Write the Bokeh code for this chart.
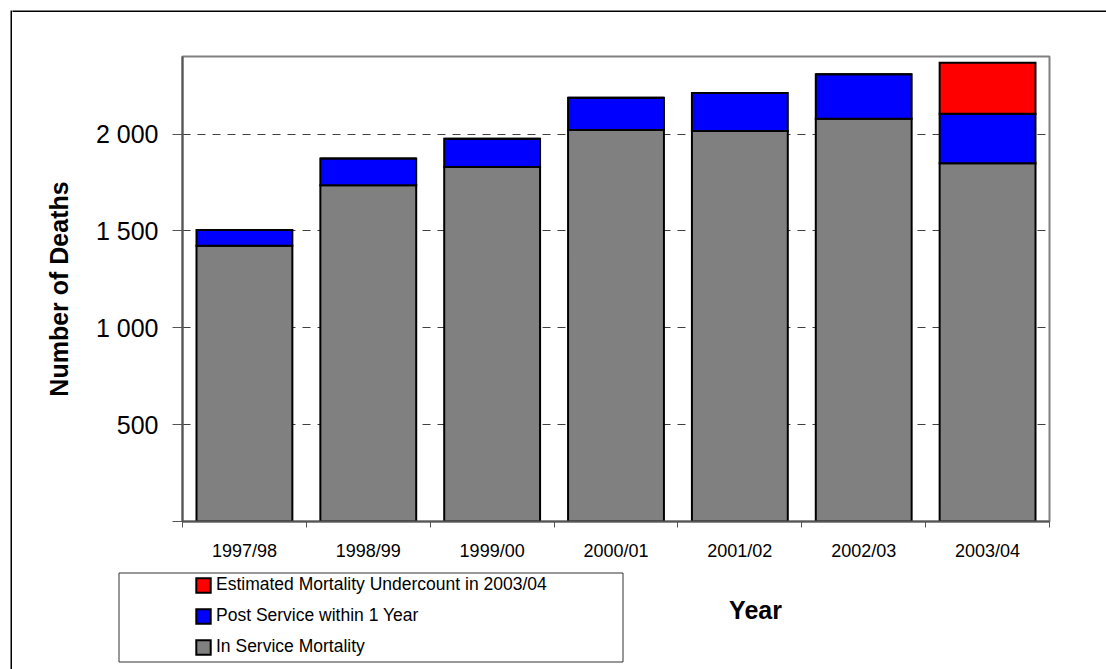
from bokeh.plotting import figure
from bokeh.layouts import row, column
from bokeh.models import (Range1d, FixedTicker, Legend, LegendItem, Label,
                          BoxAnnotation, ColumnDataSource)
from bokeh.embed import file_html
from bokeh.resources import INLINE

years = ["1997/98", "1998/99", "1999/00", "2000/01", "2001/02", "2002/03", "2003/04"]
in_service = [1423, 1735, 1830, 2021, 2015, 2079, 1849]
post_service = [82, 138, 146, 166, 196, 229, 256]
undercount = [0, 0, 0, 0, 0, 0, 263]
y_ticks = [0, 500, 1000, 1500, 2000]
series_names = ["In Service Mortality", "Post Service within 1 Year",
                "Estimated Mortality Undercount in 2003/04"]
series_colors = ["#808080", "#0000ff", "#ff0000"]
stack_keys = ["in_service", "post", "under"]

FONT = "Liberation Sans"


def blank(fig):
    fig.grid.visible = False
    fig.outline_line_color = None
    return fig


# ---- thin strips forming the outer chart border (top and left edges) ----
p_left = blank(figure(width=12, height=669, output_backend="svg", toolbar_location=None,
                      x_axis_location=None, y_axis_location=None, frame_align=False,
                      min_border_left=10, min_border_right=0, min_border_top=10,
                      min_border_bottom=0, background_fill_color="black",
                      border_fill_color="white"))
p_top = blank(figure(width=1094, height=12, output_backend="svg", toolbar_location=None,
                     x_axis_location=None, y_axis_location=None, frame_align=False,
                     min_border_left=0, min_border_right=0, min_border_top=10,
                     min_border_bottom=0, background_fill_color="black",
                     border_fill_color="white"))

# ---- main chart ----
x_pos = [i + 0.5 for i in range(len(years))]
src = ColumnDataSource(dict(x=x_pos, in_service=in_service,
                            post=post_service, under=undercount))

p = figure(width=1094, height=554, output_backend="svg", toolbar_location=None,
           x_range=Range1d(0, len(years)), y_range=Range1d(0, 2400),
           frame_align=False,
           min_border_left=170, min_border_right=57, min_border_top=44,
           min_border_bottom=45, background_fill_color="white",
           border_fill_color="white")

rs = p.vbar_stack(stack_keys, x="x", width=0.774, source=src,
                  fill_color=series_colors, line_color="black", line_width=2,
                  line_join="miter")

p.outline_line_color = "#808080"
p.outline_line_width = 2

p.xaxis.ticker = FixedTicker(ticks=x_pos, minor_ticks=list(range(len(years) + 1)))
p.xaxis.major_label_overrides = {x: y for x, y in zip(x_pos, years)}
p.xaxis.major_tick_line_color = None
p.xaxis.major_tick_out = 6
p.xaxis.major_tick_in = 0
p.xaxis.minor_tick_out = 6
p.xaxis.minor_tick_in = 0
p.xaxis.minor_tick_line_color = "#555555"
p.xaxis.minor_tick_line_width = 1
p.xaxis.axis_line_color = "#555555"
p.xaxis.axis_line_width = 2
p.xaxis.major_label_text_font = FONT
p.xaxis.major_label_text_font_size = "18px"
p.xaxis.major_label_text_color = "black"
p.xaxis.major_label_standoff = 13

p.yaxis.ticker = FixedTicker(ticks=y_ticks, minor_ticks=[])
p.yaxis.major_label_overrides = {v: ("" if v == 0 else f"{v:,}".replace(",", " ")) for v in y_ticks}
p.yaxis.major_tick_out = 10
p.yaxis.major_tick_in = 1
p.yaxis.major_tick_line_color = "#555555"
p.yaxis.axis_line_color = "#555555"
p.yaxis.axis_line_width = 2
p.yaxis.major_label_text_font = FONT
p.yaxis.major_label_text_font_size = "25px"
p.yaxis.major_label_text_color = "black"
p.yaxis.major_label_standoff = 14
p.yaxis.axis_label = "Number of Deaths"
p.yaxis.axis_label_text_font = FONT
p.yaxis.axis_label_text_font_size = "25px"
p.yaxis.axis_label_text_font_style = "bold"
p.yaxis.axis_label_text_color = "black"
p.yaxis.axis_label_standoff = 20

p.xgrid.visible = False
p.ygrid.grid_line_color = "#404040"
p.ygrid.grid_line_dash = "8 7"
p.ygrid.grid_line_width = 1

# ---- bottom strip: legend and x-axis title ----
pb = blank(figure(width=1094, height=103, output_backend="svg", toolbar_location=None,
                  x_range=Range1d(0, 1094), y_range=Range1d(0, 103), frame_align=False,
                  x_axis_location=None, y_axis_location=None, min_border=0,
                  background_fill_color="white", border_fill_color="white"))

# hidden copies of the stacked bars, used only to draw the legend swatches
leg_rs = pb.vbar_stack(stack_keys, x="x", width=0.774, source=src,
                       fill_color=series_colors, line_color="black", line_width=2,
                       line_join="miter", visible=False)

pb.add_layout(BoxAnnotation(left=106.5, right=610.5, bottom=7.5, top=96.5,
                            fill_alpha=0, line_color="#333333", line_alpha=1,
                            line_width=1))

items = [LegendItem(label=series_names[i], renderers=[leg_rs[i]]) for i in (2, 1, 0)]
legend = Legend(items=items, location=(182, 12), padding=0, margin=0,
                border_line_alpha=0, background_fill_alpha=0,
                glyph_width=18, glyph_height=18, label_height=20, spacing=10,
                label_standoff=4, label_text_font=FONT, label_text_font_size="17.5px",
                label_text_color="black")
pb.add_layout(legend)

pb.add_layout(Label(x=743, y=60, text="Year", text_font=FONT, text_font_size="25px",
                    text_font_style="bold", text_align="center",
                    text_baseline="alphabetic", text_color="black"))

layout = row(p_left, column(p_top, p, pb))

open("out.html", "w").write(file_html(layout, INLINE))
